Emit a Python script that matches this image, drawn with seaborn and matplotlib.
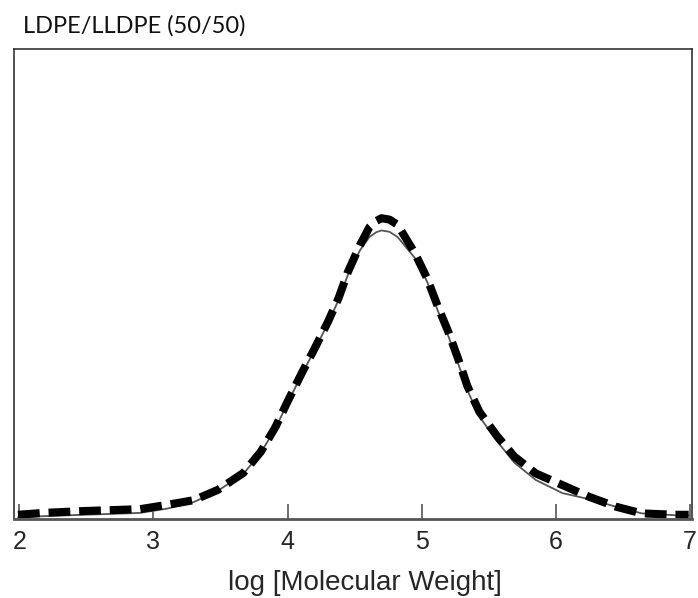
import numpy as np
import pandas as pd
import seaborn as sns
from matplotlib import pyplot as plt

# log molecular weight positions
log_mw = [1.99, 2.18, 2.48, 2.70, 2.90, 3.10, 3.30, 3.48, 3.67, 3.80,
          3.91, 4.00, 4.11, 4.20, 4.30, 4.38, 4.45, 4.54, 4.61, 4.66,
          4.70, 4.76, 4.82, 4.95, 5.04, 5.12, 5.20, 5.27, 5.34, 5.43,
          5.56, 5.69, 5.85, 6.05, 6.25, 6.45, 6.64, 6.89, 6.99]

# dashed curve (black, thick)
dashed_w = [0.009, 0.013, 0.017, 0.019, 0.021, 0.030, 0.040, 0.062, 0.098, 0.143,
            0.196, 0.250, 0.313, 0.362, 0.419, 0.470, 0.526, 0.583, 0.621, 0.634,
            0.640, 0.637, 0.626, 0.565, 0.512, 0.452, 0.397, 0.342, 0.283, 0.228,
            0.177, 0.133, 0.097, 0.072, 0.047, 0.026, 0.012, 0.009, 0.009]

# solid curve (grey, thin)
solid_w = [0.004, 0.006, 0.009, 0.011, 0.013, 0.022, 0.036, 0.060, 0.096, 0.141,
           0.193, 0.247, 0.310, 0.359, 0.416, 0.466, 0.520, 0.572, 0.600, 0.610,
           0.614, 0.611, 0.600, 0.555, 0.505, 0.443, 0.388, 0.332, 0.274, 0.218,
           0.166, 0.120, 0.083, 0.055, 0.042, 0.026, 0.012, 0.008, 0.008]

xticks = [2, 3, 4, 5, 6, 7]

df = pd.DataFrame({"logM": log_mw, "dashed": dashed_w, "solid": solid_w})

sns.set_style("white")
plt.rcParams["font.family"] = ["Liberation Sans", "DejaVu Sans"]

fig = plt.figure(figsize=(6.98, 5.98), dpi=100)
ax = fig.add_axes([14 / 698, 79 / 598, 678 / 698, 470 / 598])

sns.lineplot(data=df, x="logM", y="solid", ax=ax, color="#555555", linewidth=1.3)
sns.lineplot(data=df, x="logM", y="dashed", ax=ax, color="black", linewidth=5.8)
ax.lines[-1].set_dashes((2.7, 1.1))
ax.lines[-1].set_dash_capstyle("butt")

ax.set_xlim(1.96, 7.015)
ax.set_ylim(0, 1.0)
ax.set_xticks(xticks)
ax.set_xticklabels([str(t) for t in xticks], fontsize=18)
ax.set_yticks([])
ax.set_ylabel("")
ax.tick_params(axis="x", direction="in", length=11, width=1.2, color="#555555",
               pad=8, bottom=True)

for side in ["left", "right", "top"]:
    ax.spines[side].set_color("#333333")
    ax.spines[side].set_linewidth(1.2)
ax.spines["bottom"].set_color("#555555")
ax.spines["bottom"].set_linewidth(2)

ax.set_xlabel("log [Molecular Weight]", fontsize=20)
ax.xaxis.set_label_coords(0.518, -0.108)

fig.text(23 / 698, 1 - 33 / 598, "LDPE/LLDPE (50/50)", fontsize=17,
         family=["Lato", "DejaVu Sans"], color="#111111", va="baseline")

fig.savefig("out.png", dpi=100)
